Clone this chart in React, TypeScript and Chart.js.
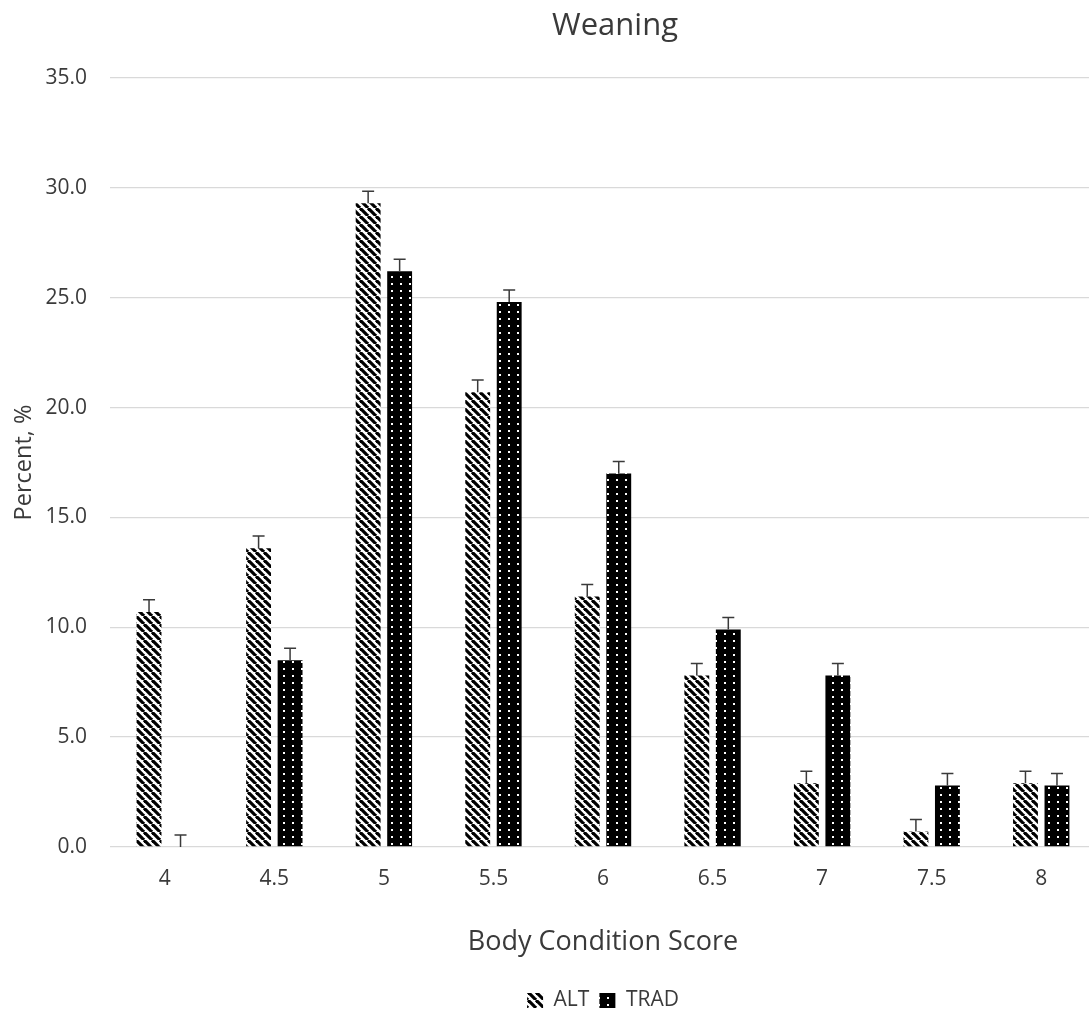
import React, { useEffect, useRef } from 'react';
import { Chart, registerables } from 'chart.js';

Chart.register(...registerables);

const categories = ['4', '4.5', '5', '5.5', '6', '6.5', '7', '7.5', '8'];
const altValues = [10.7, 13.6, 29.3, 20.7, 11.4, 7.8, 2.9, 0.7, 2.9];
const tradValues = [0, 8.5, 26.2, 24.8, 17.0, 9.9, 7.8, 2.8, 2.8];
const altErrors = [0.55, 0.55, 0.55, 0.55, 0.55, 0.55, 0.55, 0.55, 0.55];
const tradErrors = [0.55, 0.55, 0.55, 0.55, 0.55, 0.55, 0.55, 0.55, 0.55];
const seriesNames = ['ALT', 'TRAD'];
const chartTitle = 'Weaning';
const xTitle = 'Body Condition Score';
const yTitle = 'Percent, %';

const FONT = "'Open Sans', 'Noto Sans', sans-serif";
const TEXT = '#3a3a3a';

function makeStripePattern(): CanvasPattern | string {
  const c = document.createElement('canvas');
  c.width = 8;
  c.height = 8;
  const g = c.getContext('2d');
  if (!g) return '#000';
  g.fillStyle = '#fff';
  g.fillRect(0, 0, 8, 8);
  g.strokeStyle = '#000';
  g.lineWidth = 3.2;
  for (let k = -16; k <= 16; k += 8) {
    g.beginPath();
    g.moveTo(k, 0);
    g.lineTo(k + 8, 8);
    g.stroke();
  }
  return g.createPattern(c, 'repeat') || '#000';
}

function makeDotPattern(): CanvasPattern | string {
  const c = document.createElement('canvas');
  c.width = 9;
  c.height = 7;
  const g = c.getContext('2d');
  if (!g) return '#000';
  g.fillStyle = '#000';
  g.fillRect(0, 0, 9, 7);
  g.fillStyle = '#fff';
  g.fillRect(4, 3, 2, 2);
  return g.createPattern(c, 'repeat') || '#000';
}

const errorBarPlugin = {
  id: 'errorBars',
  afterDatasetsDraw(chart: any) {
    const ctx = chart.ctx;
    const yScale = chart.scales.y;
    const errs = [altErrors, tradErrors];
    ctx.save();
    ctx.strokeStyle = '#3a3a3a';
    ctx.lineWidth = 1.5;
    chart.data.datasets.forEach((ds: any, di: number) => {
      const meta = chart.getDatasetMeta(di);
      meta.data.forEach((bar: any, i: number) => {
        const v = ds.data[i];
        const e = errs[di][i];
        const x = bar.x;
        const y0 = yScale.getPixelForValue(v);
        const y1 = yScale.getPixelForValue(v + e);
        ctx.beginPath();
        ctx.moveTo(x, y0);
        ctx.lineTo(x, y1);
        ctx.moveTo(x - 6, y1);
        ctx.lineTo(x + 6, y1);
        ctx.stroke();
      });
    });
    ctx.restore();
  },
};

const titlePlugin = {
  id: 'customTitle',
  afterDraw(chart: any) {
    const ctx = chart.ctx;
    ctx.save();
    ctx.fillStyle = TEXT;
    ctx.font = `31px ${FONT}`;
    ctx.textAlign = 'center';
    ctx.textBaseline = 'alphabetic';
    ctx.fillText(chartTitle, 615, 35);
    ctx.restore();
  },
};

export default function App() {
  const ref = useRef<HTMLCanvasElement | null>(null);

  useEffect(() => {
    if (!ref.current) return;
    const chart = new Chart(ref.current, {
      type: 'bar',
      data: {
        labels: categories,
        datasets: [
          {
            label: seriesNames[0],
            data: altValues,
            backgroundColor: makeStripePattern() as any,
            borderWidth: 0,
            barPercentage: 0.79,
            categoryPercentage: 0.575,
          },
          {
            label: seriesNames[1],
            data: tradValues,
            backgroundColor: makeDotPattern() as any,
            borderWidth: 0,
            barPercentage: 0.79,
            categoryPercentage: 0.575,
          },
        ],
      },
      options: {
        responsive: false,
        animation: false,
        devicePixelRatio: 1,
        layout: { padding: { top: 78, right: 4, left: 0, bottom: 0 } },
        plugins: {
          title: { display: false },
          tooltip: { enabled: false },
          legend: {
            display: true,
            position: 'bottom',
            fullSize: false,
            labels: {
              color: TEXT,
              font: { family: FONT, size: 21 },
              boxWidth: 16,
              boxHeight: 15,
              padding: 10,
            },
          },
        },
        scales: {
          x: {
            grid: { display: false, drawTicks: false },
            border: { display: false },
            ticks: {
              color: TEXT,
              font: { family: FONT, size: 21 },
              padding: 19,
              maxRotation: 0,
            },
            title: {
              display: true,
              text: xTitle,
              color: TEXT,
              font: { family: FONT, size: 27 },
              padding: { top: 0, bottom: 21 },
            },
            afterFit(scale: any) {
              scale.height = 133;
            },
          },
          y: {
            min: 0,
            max: 35,
            grid: { color: '#d9d9d9', lineWidth: 1.3, drawTicks: false },
            border: { display: false },
            ticks: {
              stepSize: 5,
              color: TEXT,
              font: { family: FONT, size: 21 },
              padding: 23,
              callback: (v: any) => Number(v).toFixed(1),
            },
            title: {
              display: true,
              text: yTitle,
              color: TEXT,
              font: { family: FONT, size: 23.5 },
              padding: { top: 10, bottom: 0 },
            },
            afterFit(scale: any) {
              scale.width = 110;
            },
          },
        },
      },
      plugins: [errorBarPlugin, titlePlugin],
    });
    return () => chart.destroy();
  }, []);

  return (
    <div
      style={{
        position: 'fixed',
        left: 0,
        top: 0,
        width: 1089,
        height: 1011,
        overflow: 'hidden',
        background: '#fff',
      }}
    >
      <canvas ref={ref} width={1100} height={1021} style={{ display: 'block', width: 1100, height: 1021 }} />
    </div>
  );
}
